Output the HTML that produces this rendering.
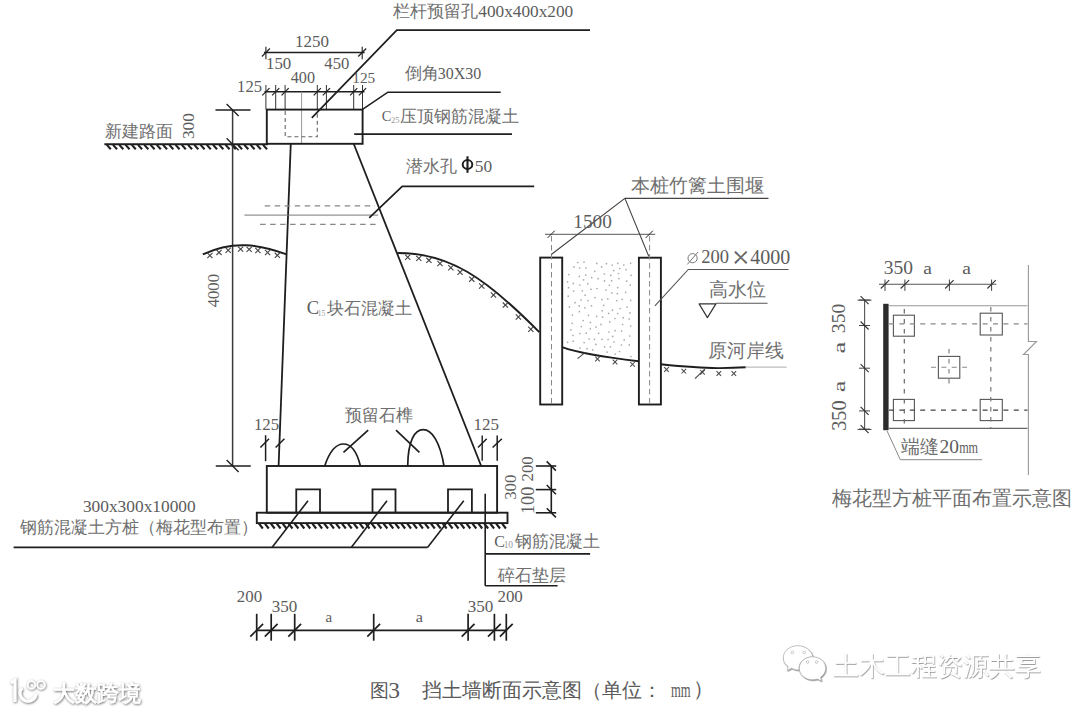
<!DOCTYPE html>
<html><head><meta charset="utf-8"><title>挡土墙断面示意图</title><style>
html,body{margin:0;padding:0;background:#fff;width:1080px;height:712px;overflow:hidden}
svg{display:block}
text{font-family:"Liberation Serif",serif}
</style></head><body>
<svg width="1080" height="712" viewBox="0 0 1080 712">
<rect width="1080" height="712" fill="#fff"/>
<line x1="263.9" y1="52.5" x2="364.6" y2="52.5" stroke="#1e1e1e" stroke-width="1.5"/>
<line x1="265.9" y1="46.7" x2="265.9" y2="59.2" stroke="#1e1e1e" stroke-width="1.1"/>
<line x1="362.2" y1="46.7" x2="362.2" y2="59.2" stroke="#1e1e1e" stroke-width="1.1"/>
<line x1="261.9" y1="56.5" x2="269.9" y2="48.5" stroke="#1e1e1e" stroke-width="1.2"/>
<line x1="358.2" y1="56.5" x2="366.2" y2="48.5" stroke="#1e1e1e" stroke-width="1.2"/>
<line x1="264.5" y1="91.8" x2="364.5" y2="91.8" stroke="#1e1e1e" stroke-width="1.6"/>
<line x1="265.9" y1="85" x2="265.9" y2="109.4" stroke="#333" stroke-width="1.0"/>
<line x1="262.3" y1="95.4" x2="269.5" y2="88.2" stroke="#1e1e1e" stroke-width="1.2"/>
<line x1="275.7" y1="85" x2="275.7" y2="109.4" stroke="#333" stroke-width="1.0"/>
<line x1="272.1" y1="95.4" x2="279.3" y2="88.2" stroke="#1e1e1e" stroke-width="1.2"/>
<line x1="285.1" y1="85" x2="285.1" y2="109.4" stroke="#333" stroke-width="1.0"/>
<line x1="281.5" y1="95.4" x2="288.7" y2="88.2" stroke="#1e1e1e" stroke-width="1.2"/>
<line x1="317.3" y1="85" x2="317.3" y2="109.4" stroke="#333" stroke-width="1.0"/>
<line x1="313.7" y1="95.4" x2="320.9" y2="88.2" stroke="#1e1e1e" stroke-width="1.2"/>
<line x1="326.4" y1="85" x2="326.4" y2="109.4" stroke="#333" stroke-width="1.0"/>
<line x1="322.8" y1="95.4" x2="330" y2="88.2" stroke="#1e1e1e" stroke-width="1.2"/>
<line x1="353.7" y1="85" x2="353.7" y2="109.4" stroke="#333" stroke-width="1.0"/>
<line x1="350.1" y1="95.4" x2="357.3" y2="88.2" stroke="#1e1e1e" stroke-width="1.2"/>
<line x1="362.5" y1="85" x2="362.5" y2="109.4" stroke="#333" stroke-width="1.0"/>
<line x1="358.9" y1="95.4" x2="366.1" y2="88.2" stroke="#1e1e1e" stroke-width="1.2"/>
<line x1="301.6" y1="91.8" x2="301.6" y2="143.7" stroke="#999" stroke-width="1.0"/>
<rect x="266.8" y="109.6" width="95.8" height="34.2" stroke="#1e1e1e" stroke-width="1.9" fill="none"/>
<path d="M285.2,111 V136.8 H317.3 V111" stroke="#666" stroke-width="1.1" fill="none" stroke-dasharray="4,3"/>
<path d="M311.8,117.8 L396.8,30.1 H590" stroke="#1e1e1e" stroke-width="1.7" fill="none"/>
<path d="M362.5,109.4 L387.9,92.2 H500.7" stroke="#1e1e1e" stroke-width="1.6" fill="none"/>
<line x1="354.2" y1="134.1" x2="512" y2="134.1" stroke="#1e1e1e" stroke-width="1.7"/>
<line x1="104.4" y1="144.2" x2="268" y2="144.2" stroke="#1e1e1e" stroke-width="1.9"/>
<line x1="106.8" y1="144.9" x2="110.8" y2="149.2" stroke="#1e1e1e" stroke-width="2.1"/>
<line x1="113.05" y1="144.9" x2="117.05" y2="149.2" stroke="#1e1e1e" stroke-width="2.1"/>
<line x1="119.3" y1="144.9" x2="123.3" y2="149.2" stroke="#1e1e1e" stroke-width="2.1"/>
<line x1="125.55" y1="144.9" x2="129.55" y2="149.2" stroke="#1e1e1e" stroke-width="2.1"/>
<line x1="131.8" y1="144.9" x2="135.8" y2="149.2" stroke="#1e1e1e" stroke-width="2.1"/>
<line x1="138.05" y1="144.9" x2="142.05" y2="149.2" stroke="#1e1e1e" stroke-width="2.1"/>
<line x1="144.3" y1="144.9" x2="148.3" y2="149.2" stroke="#1e1e1e" stroke-width="2.1"/>
<line x1="150.55" y1="144.9" x2="154.55" y2="149.2" stroke="#1e1e1e" stroke-width="2.1"/>
<line x1="156.8" y1="144.9" x2="160.8" y2="149.2" stroke="#1e1e1e" stroke-width="2.1"/>
<line x1="163.05" y1="144.9" x2="167.05" y2="149.2" stroke="#1e1e1e" stroke-width="2.1"/>
<line x1="169.3" y1="144.9" x2="173.3" y2="149.2" stroke="#1e1e1e" stroke-width="2.1"/>
<line x1="175.55" y1="144.9" x2="179.55" y2="149.2" stroke="#1e1e1e" stroke-width="2.1"/>
<line x1="181.8" y1="144.9" x2="185.8" y2="149.2" stroke="#1e1e1e" stroke-width="2.1"/>
<line x1="188.05" y1="144.9" x2="192.05" y2="149.2" stroke="#1e1e1e" stroke-width="2.1"/>
<line x1="194.3" y1="144.9" x2="198.3" y2="149.2" stroke="#1e1e1e" stroke-width="2.1"/>
<line x1="200.55" y1="144.9" x2="204.55" y2="149.2" stroke="#1e1e1e" stroke-width="2.1"/>
<line x1="206.8" y1="144.9" x2="210.8" y2="149.2" stroke="#1e1e1e" stroke-width="2.1"/>
<line x1="213.05" y1="144.9" x2="217.05" y2="149.2" stroke="#1e1e1e" stroke-width="2.1"/>
<line x1="219.3" y1="144.9" x2="223.3" y2="149.2" stroke="#1e1e1e" stroke-width="2.1"/>
<line x1="225.55" y1="144.9" x2="229.55" y2="149.2" stroke="#1e1e1e" stroke-width="2.1"/>
<line x1="231.8" y1="144.9" x2="235.8" y2="149.2" stroke="#1e1e1e" stroke-width="2.1"/>
<line x1="238.05" y1="144.9" x2="242.05" y2="149.2" stroke="#1e1e1e" stroke-width="2.1"/>
<line x1="244.3" y1="144.9" x2="248.3" y2="149.2" stroke="#1e1e1e" stroke-width="2.1"/>
<line x1="250.55" y1="144.9" x2="254.55" y2="149.2" stroke="#1e1e1e" stroke-width="2.1"/>
<line x1="256.8" y1="144.9" x2="260.8" y2="149.2" stroke="#1e1e1e" stroke-width="2.1"/>
<line x1="263.05" y1="144.9" x2="267.05" y2="149.2" stroke="#1e1e1e" stroke-width="2.1"/>
<line x1="232.6" y1="110" x2="232.6" y2="466" stroke="#3a3a3a" stroke-width="1.5"/>
<line x1="215.5" y1="110" x2="250.5" y2="110" stroke="#1e1e1e" stroke-width="1.6"/>
<line x1="215.75" y1="466" x2="250.75" y2="466" stroke="#1e1e1e" stroke-width="1.6"/>
<line x1="226.6" y1="104" x2="238.6" y2="116" stroke="#1e1e1e" stroke-width="1.4"/>
<line x1="226.6" y1="138.2" x2="238.6" y2="150.2" stroke="#1e1e1e" stroke-width="1.4"/>
<line x1="226.6" y1="460" x2="238.6" y2="472" stroke="#1e1e1e" stroke-width="1.4"/>
<line x1="290.75" y1="144" x2="278.6" y2="466" stroke="#1e1e1e" stroke-width="1.8"/>
<line x1="353.8" y1="144" x2="481.2" y2="466" stroke="#1e1e1e" stroke-width="1.8"/>
<line x1="264.7" y1="205.8" x2="375" y2="205.8" stroke="#888" stroke-width="1.2" stroke-dasharray="5.5,4.5"/>
<line x1="244.4" y1="215.1" x2="378.2" y2="215.1" stroke="#777" stroke-width="1.0"/>
<line x1="260.1" y1="224.4" x2="380" y2="224.4" stroke="#888" stroke-width="1.2" stroke-dasharray="5.5,4.5"/>
<path d="M369.2,217.9 L402.2,186.4 H534.2" stroke="#1e1e1e" stroke-width="1.7" fill="none"/>
<path d="M202.8,254.4 C233.52,240.0 259.02,244.47 286.7,254.4" stroke="#1e1e1e" stroke-width="1.9" fill="none"/>
<path d="M397.5,253 C449.06,252.73 485.49,277.57 539.3,332.2" stroke="#1e1e1e" stroke-width="1.9" fill="none"/>
<line x1="207.31" y1="252.95" x2="212.51" y2="258.15" stroke="#444" stroke-width="1.1"/>
<line x1="207.31" y1="258.15" x2="212.51" y2="252.95" stroke="#444" stroke-width="1.1"/>
<line x1="216.44" y1="249.8" x2="221.64" y2="255" stroke="#444" stroke-width="1.1"/>
<line x1="216.44" y1="255" x2="221.64" y2="249.8" stroke="#444" stroke-width="1.1"/>
<line x1="225.6" y1="247.69" x2="230.8" y2="252.89" stroke="#444" stroke-width="1.1"/>
<line x1="225.6" y1="252.89" x2="230.8" y2="247.69" stroke="#444" stroke-width="1.1"/>
<line x1="238.01" y1="246.52" x2="243.21" y2="251.72" stroke="#444" stroke-width="1.1"/>
<line x1="238.01" y1="251.72" x2="243.21" y2="246.52" stroke="#444" stroke-width="1.1"/>
<line x1="246.58" y1="246.78" x2="251.78" y2="251.98" stroke="#444" stroke-width="1.1"/>
<line x1="246.58" y1="251.98" x2="251.78" y2="246.78" stroke="#444" stroke-width="1.1"/>
<line x1="255.28" y1="247.87" x2="260.48" y2="253.07" stroke="#444" stroke-width="1.1"/>
<line x1="255.28" y1="253.07" x2="260.48" y2="247.87" stroke="#444" stroke-width="1.1"/>
<line x1="264.95" y1="249.92" x2="270.15" y2="255.12" stroke="#444" stroke-width="1.1"/>
<line x1="264.95" y1="255.12" x2="270.15" y2="249.92" stroke="#444" stroke-width="1.1"/>
<line x1="274.75" y1="252.74" x2="279.95" y2="257.94" stroke="#444" stroke-width="1.1"/>
<line x1="274.75" y1="257.94" x2="279.95" y2="252.74" stroke="#444" stroke-width="1.1"/>
<line x1="405.12" y1="254.6" x2="410.32" y2="259.8" stroke="#444" stroke-width="1.1"/>
<line x1="405.12" y1="259.8" x2="410.32" y2="254.6" stroke="#444" stroke-width="1.1"/>
<line x1="416.18" y1="255.78" x2="421.38" y2="260.98" stroke="#444" stroke-width="1.1"/>
<line x1="416.18" y1="260.98" x2="421.38" y2="255.78" stroke="#444" stroke-width="1.1"/>
<line x1="426.32" y1="257.74" x2="431.52" y2="262.94" stroke="#444" stroke-width="1.1"/>
<line x1="426.32" y1="262.94" x2="431.52" y2="257.74" stroke="#444" stroke-width="1.1"/>
<line x1="437.39" y1="260.94" x2="442.59" y2="266.14" stroke="#444" stroke-width="1.1"/>
<line x1="437.39" y1="266.14" x2="442.59" y2="260.94" stroke="#444" stroke-width="1.1"/>
<line x1="448.26" y1="265.2" x2="453.46" y2="270.4" stroke="#444" stroke-width="1.1"/>
<line x1="448.26" y1="270.4" x2="453.46" y2="265.2" stroke="#444" stroke-width="1.1"/>
<line x1="457.51" y1="269.72" x2="462.71" y2="274.92" stroke="#444" stroke-width="1.1"/>
<line x1="457.51" y1="274.92" x2="462.71" y2="269.72" stroke="#444" stroke-width="1.1"/>
<line x1="469.15" y1="276.55" x2="474.35" y2="281.75" stroke="#444" stroke-width="1.1"/>
<line x1="469.15" y1="281.75" x2="474.35" y2="276.55" stroke="#444" stroke-width="1.1"/>
<line x1="479.09" y1="283.33" x2="484.29" y2="288.53" stroke="#444" stroke-width="1.1"/>
<line x1="479.09" y1="288.53" x2="484.29" y2="283.33" stroke="#444" stroke-width="1.1"/>
<line x1="490.88" y1="292.39" x2="496.08" y2="297.59" stroke="#444" stroke-width="1.1"/>
<line x1="490.88" y1="297.59" x2="496.08" y2="292.39" stroke="#444" stroke-width="1.1"/>
<line x1="502.79" y1="302.51" x2="507.99" y2="307.71" stroke="#444" stroke-width="1.1"/>
<line x1="502.79" y1="307.71" x2="507.99" y2="302.51" stroke="#444" stroke-width="1.1"/>
<line x1="515.79" y1="314.47" x2="520.99" y2="319.67" stroke="#444" stroke-width="1.1"/>
<line x1="515.79" y1="319.67" x2="520.99" y2="314.47" stroke="#444" stroke-width="1.1"/>
<line x1="528.2" y1="326.58" x2="533.4" y2="331.78" stroke="#444" stroke-width="1.1"/>
<line x1="528.2" y1="331.78" x2="533.4" y2="326.58" stroke="#444" stroke-width="1.1"/>
<rect x="540.2" y="257.6" width="22" height="146.9" stroke="#1e1e1e" stroke-width="1.9" fill="none"/>
<rect x="638.9" y="257.7" width="22" height="146.8" stroke="#1e1e1e" stroke-width="1.9" fill="none"/>
<line x1="551.5" y1="236" x2="551.5" y2="404.5" stroke="#888" stroke-width="1.0" stroke-dasharray="5.5,3.5"/>
<line x1="649.6" y1="236" x2="649.6" y2="404.5" stroke="#888" stroke-width="1.0" stroke-dasharray="5.5,3.5"/>
<line x1="545" y1="234.3" x2="655.2" y2="234.3" stroke="#555" stroke-width="1.0"/>
<line x1="547.6" y1="237.9" x2="554.8" y2="230.7" stroke="#1e1e1e" stroke-width="1.0"/>
<line x1="645.7" y1="237.9" x2="652.9" y2="230.7" stroke="#1e1e1e" stroke-width="1.0"/>
<path d="M551.25,254.5 L624.9,198.3 L648.75,256.25" stroke="#444" stroke-width="1.1" fill="none"/>
<line x1="624.9" y1="198.3" x2="768.5" y2="198.3" stroke="#444" stroke-width="1.2"/>
<circle cx="596.7" cy="316.4" r="0.85" fill="#aaa"/>
<circle cx="627.1" cy="307.1" r="0.85" fill="#aaa"/>
<circle cx="579.4" cy="311.7" r="0.85" fill="#aaa"/>
<circle cx="608.1" cy="339.5" r="0.85" fill="#aaa"/>
<circle cx="573.6" cy="291.0" r="0.85" fill="#aaa"/>
<circle cx="573.3" cy="341.2" r="0.85" fill="#aaa"/>
<circle cx="612.2" cy="265.1" r="0.85" fill="#aaa"/>
<circle cx="630.9" cy="356.5" r="0.85" fill="#aaa"/>
<circle cx="609.7" cy="321.9" r="0.85" fill="#aaa"/>
<circle cx="577.7" cy="262.5" r="0.85" fill="#aaa"/>
<circle cx="601.6" cy="266.9" r="0.85" fill="#aaa"/>
<circle cx="579.8" cy="285.0" r="0.85" fill="#aaa"/>
<circle cx="569.4" cy="306.9" r="0.85" fill="#aaa"/>
<circle cx="595.9" cy="344.4" r="0.85" fill="#aaa"/>
<circle cx="601.0" cy="324.4" r="0.85" fill="#aaa"/>
<circle cx="597.0" cy="288.5" r="0.85" fill="#aaa"/>
<circle cx="621.7" cy="331.1" r="0.85" fill="#aaa"/>
<circle cx="587.8" cy="283.7" r="0.85" fill="#aaa"/>
<circle cx="586.1" cy="268.0" r="0.85" fill="#aaa"/>
<circle cx="616.9" cy="300.6" r="0.85" fill="#aaa"/>
<circle cx="622.1" cy="299.3" r="0.85" fill="#aaa"/>
<circle cx="629.3" cy="344.9" r="0.85" fill="#aaa"/>
<circle cx="567.5" cy="281.8" r="0.85" fill="#aaa"/>
<circle cx="630.7" cy="300.3" r="0.85" fill="#aaa"/>
<circle cx="572.2" cy="323.3" r="0.85" fill="#aaa"/>
<circle cx="617.7" cy="287.7" r="0.85" fill="#aaa"/>
<circle cx="629.7" cy="336.0" r="0.85" fill="#aaa"/>
<circle cx="574.0" cy="266.9" r="0.85" fill="#aaa"/>
<circle cx="618.9" cy="278.6" r="0.85" fill="#aaa"/>
<circle cx="603.6" cy="305.3" r="0.85" fill="#aaa"/>
<circle cx="579.8" cy="333.5" r="0.85" fill="#aaa"/>
<circle cx="575.0" cy="302.7" r="0.85" fill="#aaa"/>
<circle cx="587.1" cy="348.6" r="0.85" fill="#aaa"/>
<circle cx="581.1" cy="300.0" r="0.85" fill="#aaa"/>
<circle cx="622.6" cy="324.5" r="0.85" fill="#aaa"/>
<circle cx="617.3" cy="293.6" r="0.85" fill="#aaa"/>
<circle cx="583.2" cy="320.5" r="0.85" fill="#aaa"/>
<circle cx="591.5" cy="305.9" r="0.85" fill="#aaa"/>
<circle cx="604.6" cy="346.8" r="0.85" fill="#aaa"/>
<circle cx="579.3" cy="276.3" r="0.85" fill="#aaa"/>
<circle cx="583.6" cy="279.8" r="0.85" fill="#aaa"/>
<circle cx="615.2" cy="354.1" r="0.85" fill="#aaa"/>
<circle cx="594.7" cy="271.3" r="0.85" fill="#aaa"/>
<circle cx="584.1" cy="342.5" r="0.85" fill="#aaa"/>
<circle cx="606.0" cy="290.1" r="0.85" fill="#aaa"/>
<circle cx="626.7" cy="281.2" r="0.85" fill="#aaa"/>
<circle cx="568.6" cy="287.7" r="0.85" fill="#aaa"/>
<circle cx="604.4" cy="274.0" r="0.85" fill="#aaa"/>
<circle cx="630.7" cy="326.0" r="0.85" fill="#aaa"/>
<circle cx="598.6" cy="333.3" r="0.85" fill="#aaa"/>
<circle cx="572.4" cy="315.1" r="0.85" fill="#aaa"/>
<circle cx="615.0" cy="330.7" r="0.85" fill="#aaa"/>
<circle cx="590.2" cy="328.8" r="0.85" fill="#aaa"/>
<circle cx="594.4" cy="339.3" r="0.85" fill="#aaa"/>
<circle cx="623.2" cy="317.7" r="0.85" fill="#aaa"/>
<circle cx="607.8" cy="298.9" r="0.85" fill="#aaa"/>
<circle cx="614.9" cy="318.5" r="0.85" fill="#aaa"/>
<circle cx="572.9" cy="335.3" r="0.85" fill="#aaa"/>
<circle cx="612.5" cy="310.2" r="0.85" fill="#aaa"/>
<circle cx="607.1" cy="352.1" r="0.85" fill="#aaa"/>
<circle cx="584.0" cy="262.1" r="0.85" fill="#aaa"/>
<circle cx="619.5" cy="351.5" r="0.85" fill="#aaa"/>
<circle cx="621.5" cy="345.0" r="0.85" fill="#aaa"/>
<circle cx="623.8" cy="265.1" r="0.85" fill="#aaa"/>
<circle cx="568.7" cy="274.5" r="0.85" fill="#aaa"/>
<circle cx="596.8" cy="263.4" r="0.85" fill="#aaa"/>
<circle cx="611.6" cy="280.7" r="0.85" fill="#aaa"/>
<circle cx="598.1" cy="278.7" r="0.85" fill="#aaa"/>
<circle cx="585.1" cy="295.2" r="0.85" fill="#aaa"/>
<circle cx="626.0" cy="269.6" r="0.85" fill="#aaa"/>
<circle cx="624.2" cy="339.9" r="0.85" fill="#aaa"/>
<circle cx="614.1" cy="342.0" r="0.85" fill="#aaa"/>
<circle cx="608.9" cy="332.0" r="0.85" fill="#aaa"/>
<circle cx="602.1" cy="339.3" r="0.85" fill="#aaa"/>
<circle cx="589.1" cy="339.0" r="0.85" fill="#aaa"/>
<circle cx="586.2" cy="333.2" r="0.85" fill="#aaa"/>
<circle cx="630.0" cy="312.9" r="0.85" fill="#aaa"/>
<circle cx="604.5" cy="280.9" r="0.85" fill="#aaa"/>
<circle cx="602.1" cy="310.8" r="0.85" fill="#aaa"/>
<circle cx="606.5" cy="263.7" r="0.85" fill="#aaa"/>
<circle cx="584.9" cy="307.8" r="0.85" fill="#aaa"/>
<circle cx="617.8" cy="263.3" r="0.85" fill="#aaa"/>
<circle cx="611.8" cy="292.9" r="0.85" fill="#aaa"/>
<circle cx="590.4" cy="322.4" r="0.85" fill="#aaa"/>
<circle cx="608.7" cy="313.4" r="0.85" fill="#aaa"/>
<circle cx="625.7" cy="292.3" r="0.85" fill="#aaa"/>
<circle cx="618.5" cy="273.5" r="0.85" fill="#aaa"/>
<circle cx="579.7" cy="268.0" r="0.85" fill="#aaa"/>
<circle cx="579.2" cy="305.9" r="0.85" fill="#aaa"/>
<circle cx="568.2" cy="296.2" r="0.85" fill="#aaa"/>
<circle cx="601.9" cy="299.6" r="0.85" fill="#aaa"/>
<circle cx="612.7" cy="336.4" r="0.85" fill="#aaa"/>
<circle cx="630.7" cy="263.3" r="0.85" fill="#aaa"/>
<circle cx="619.7" cy="268.5" r="0.85" fill="#aaa"/>
<circle cx="591.1" cy="289.3" r="0.85" fill="#aaa"/>
<circle cx="592.7" cy="349.9" r="0.85" fill="#aaa"/>
<circle cx="630.3" cy="285.1" r="0.85" fill="#aaa"/>
<circle cx="596.1" cy="327.1" r="0.85" fill="#aaa"/>
<circle cx="617.7" cy="313.5" r="0.85" fill="#aaa"/>
<circle cx="588.5" cy="315.3" r="0.85" fill="#aaa"/>
<circle cx="595.1" cy="297.6" r="0.85" fill="#aaa"/>
<circle cx="581.3" cy="326.5" r="0.85" fill="#aaa"/>
<circle cx="585.7" cy="275.1" r="0.85" fill="#aaa"/>
<circle cx="588.0" cy="300.6" r="0.85" fill="#aaa"/>
<circle cx="602.6" cy="317.2" r="0.85" fill="#aaa"/>
<circle cx="609.4" cy="285.3" r="0.85" fill="#aaa"/>
<circle cx="591.7" cy="277.6" r="0.85" fill="#aaa"/>
<circle cx="620.2" cy="308.5" r="0.85" fill="#aaa"/>
<circle cx="567.6" cy="342.3" r="0.85" fill="#aaa"/>
<circle cx="613.7" cy="270.6" r="0.85" fill="#aaa"/>
<circle cx="629.1" cy="319.1" r="0.85" fill="#aaa"/>
<circle cx="573.3" cy="283.4" r="0.85" fill="#aaa"/>
<circle cx="610.8" cy="275.3" r="0.85" fill="#aaa"/>
<circle cx="570.9" cy="329.8" r="0.85" fill="#aaa"/>
<circle cx="610.4" cy="346.8" r="0.85" fill="#aaa"/>
<circle cx="579.9" cy="348.1" r="0.85" fill="#aaa"/>
<circle cx="582.3" cy="290.8" r="0.85" fill="#aaa"/>
<circle cx="631.1" cy="275.3" r="0.85" fill="#aaa"/>
<path d="M654.9,305.9 L688.3,269.5 H788.6" stroke="#555" stroke-width="1.1" fill="none"/>
<line x1="715.9" y1="303.3" x2="767.6" y2="303.3" stroke="#555" stroke-width="1.1"/>
<path d="M699.1,303.9 H715.9 L707.4,317.6 Z" stroke="#333" stroke-width="1.2" fill="none" stroke-linejoin="round"/>
<path d="M562.1,347.2 C581.91,354.28 621.2,359.29 638.5,361.3" stroke="#1e1e1e" stroke-width="1.9" fill="none"/>
<path d="M660.8,364.3 C685,366.8 705,368.3 720,368.1 C730,368 740,367.6 745.7,367.3" stroke="#1e1e1e" stroke-width="1.9" fill="none"/>
<line x1="745.7" y1="367.1" x2="786.6" y2="367.1" stroke="#aaa" stroke-width="1.0"/>
<line x1="595.2" y1="356.7" x2="599.8" y2="361.3" stroke="#4a4a4a" stroke-width="1.05"/>
<line x1="595.2" y1="361.3" x2="599.8" y2="356.7" stroke="#4a4a4a" stroke-width="1.05"/>
<line x1="612.7" y1="359.7" x2="617.3" y2="364.3" stroke="#4a4a4a" stroke-width="1.05"/>
<line x1="612.7" y1="364.3" x2="617.3" y2="359.7" stroke="#4a4a4a" stroke-width="1.05"/>
<line x1="630.2" y1="362" x2="634.8" y2="366.6" stroke="#4a4a4a" stroke-width="1.05"/>
<line x1="630.2" y1="366.6" x2="634.8" y2="362" stroke="#4a4a4a" stroke-width="1.05"/>
<line x1="577.5" y1="358.6" x2="585" y2="352.6" stroke="#444" stroke-width="1.1"/>
<line x1="664.2" y1="367.2" x2="668.8" y2="371.8" stroke="#4a4a4a" stroke-width="1.05"/>
<line x1="664.2" y1="371.8" x2="668.8" y2="367.2" stroke="#4a4a4a" stroke-width="1.05"/>
<line x1="681.5" y1="368.9" x2="686.1" y2="373.5" stroke="#4a4a4a" stroke-width="1.05"/>
<line x1="681.5" y1="373.5" x2="686.1" y2="368.9" stroke="#4a4a4a" stroke-width="1.05"/>
<line x1="700.2" y1="370" x2="704.8" y2="374.6" stroke="#4a4a4a" stroke-width="1.05"/>
<line x1="700.2" y1="374.6" x2="704.8" y2="370" stroke="#4a4a4a" stroke-width="1.05"/>
<line x1="716.5" y1="371.2" x2="721.1" y2="375.8" stroke="#4a4a4a" stroke-width="1.05"/>
<line x1="716.5" y1="375.8" x2="721.1" y2="371.2" stroke="#4a4a4a" stroke-width="1.05"/>
<line x1="731.5" y1="371.2" x2="736.1" y2="375.8" stroke="#4a4a4a" stroke-width="1.05"/>
<line x1="731.5" y1="375.8" x2="736.1" y2="371.2" stroke="#4a4a4a" stroke-width="1.05"/>
<line x1="695" y1="378.7" x2="705" y2="368.8" stroke="#444" stroke-width="1.1"/>
<rect x="266.8" y="466" width="230.3" height="46.7" stroke="#1e1e1e" stroke-width="1.9" fill="none"/>
<rect x="256.8" y="512.7" width="250.7" height="10.4" stroke="#1e1e1e" stroke-width="1.9" fill="none"/>
<line x1="259" y1="523.6" x2="262.8" y2="528.5" stroke="#1e1e1e" stroke-width="2.1"/>
<line x1="264.93" y1="523.6" x2="268.73" y2="528.5" stroke="#1e1e1e" stroke-width="2.1"/>
<line x1="270.86" y1="523.6" x2="274.66" y2="528.5" stroke="#1e1e1e" stroke-width="2.1"/>
<line x1="276.79" y1="523.6" x2="280.59" y2="528.5" stroke="#1e1e1e" stroke-width="2.1"/>
<line x1="282.72" y1="523.6" x2="286.52" y2="528.5" stroke="#1e1e1e" stroke-width="2.1"/>
<line x1="288.65" y1="523.6" x2="292.45" y2="528.5" stroke="#1e1e1e" stroke-width="2.1"/>
<line x1="294.58" y1="523.6" x2="298.38" y2="528.5" stroke="#1e1e1e" stroke-width="2.1"/>
<line x1="300.51" y1="523.6" x2="304.31" y2="528.5" stroke="#1e1e1e" stroke-width="2.1"/>
<line x1="306.44" y1="523.6" x2="310.24" y2="528.5" stroke="#1e1e1e" stroke-width="2.1"/>
<line x1="312.37" y1="523.6" x2="316.17" y2="528.5" stroke="#1e1e1e" stroke-width="2.1"/>
<line x1="318.3" y1="523.6" x2="322.1" y2="528.5" stroke="#1e1e1e" stroke-width="2.1"/>
<line x1="324.23" y1="523.6" x2="328.03" y2="528.5" stroke="#1e1e1e" stroke-width="2.1"/>
<line x1="330.16" y1="523.6" x2="333.96" y2="528.5" stroke="#1e1e1e" stroke-width="2.1"/>
<line x1="336.09" y1="523.6" x2="339.89" y2="528.5" stroke="#1e1e1e" stroke-width="2.1"/>
<line x1="342.02" y1="523.6" x2="345.82" y2="528.5" stroke="#1e1e1e" stroke-width="2.1"/>
<line x1="347.95" y1="523.6" x2="351.75" y2="528.5" stroke="#1e1e1e" stroke-width="2.1"/>
<line x1="353.88" y1="523.6" x2="357.68" y2="528.5" stroke="#1e1e1e" stroke-width="2.1"/>
<line x1="359.81" y1="523.6" x2="363.61" y2="528.5" stroke="#1e1e1e" stroke-width="2.1"/>
<line x1="365.74" y1="523.6" x2="369.54" y2="528.5" stroke="#1e1e1e" stroke-width="2.1"/>
<line x1="371.67" y1="523.6" x2="375.47" y2="528.5" stroke="#1e1e1e" stroke-width="2.1"/>
<line x1="377.6" y1="523.6" x2="381.4" y2="528.5" stroke="#1e1e1e" stroke-width="2.1"/>
<line x1="383.53" y1="523.6" x2="387.33" y2="528.5" stroke="#1e1e1e" stroke-width="2.1"/>
<line x1="389.46" y1="523.6" x2="393.26" y2="528.5" stroke="#1e1e1e" stroke-width="2.1"/>
<line x1="395.39" y1="523.6" x2="399.19" y2="528.5" stroke="#1e1e1e" stroke-width="2.1"/>
<line x1="401.32" y1="523.6" x2="405.12" y2="528.5" stroke="#1e1e1e" stroke-width="2.1"/>
<line x1="407.25" y1="523.6" x2="411.05" y2="528.5" stroke="#1e1e1e" stroke-width="2.1"/>
<line x1="413.18" y1="523.6" x2="416.98" y2="528.5" stroke="#1e1e1e" stroke-width="2.1"/>
<line x1="419.11" y1="523.6" x2="422.91" y2="528.5" stroke="#1e1e1e" stroke-width="2.1"/>
<line x1="425.04" y1="523.6" x2="428.84" y2="528.5" stroke="#1e1e1e" stroke-width="2.1"/>
<line x1="430.97" y1="523.6" x2="434.77" y2="528.5" stroke="#1e1e1e" stroke-width="2.1"/>
<line x1="436.9" y1="523.6" x2="440.7" y2="528.5" stroke="#1e1e1e" stroke-width="2.1"/>
<line x1="442.83" y1="523.6" x2="446.63" y2="528.5" stroke="#1e1e1e" stroke-width="2.1"/>
<line x1="448.76" y1="523.6" x2="452.56" y2="528.5" stroke="#1e1e1e" stroke-width="2.1"/>
<line x1="454.69" y1="523.6" x2="458.49" y2="528.5" stroke="#1e1e1e" stroke-width="2.1"/>
<line x1="460.62" y1="523.6" x2="464.42" y2="528.5" stroke="#1e1e1e" stroke-width="2.1"/>
<line x1="466.55" y1="523.6" x2="470.35" y2="528.5" stroke="#1e1e1e" stroke-width="2.1"/>
<line x1="472.48" y1="523.6" x2="476.28" y2="528.5" stroke="#1e1e1e" stroke-width="2.1"/>
<line x1="478.41" y1="523.6" x2="482.21" y2="528.5" stroke="#1e1e1e" stroke-width="2.1"/>
<line x1="484.34" y1="523.6" x2="488.14" y2="528.5" stroke="#1e1e1e" stroke-width="2.1"/>
<line x1="490.27" y1="523.6" x2="494.07" y2="528.5" stroke="#1e1e1e" stroke-width="2.1"/>
<line x1="496.2" y1="523.6" x2="500" y2="528.5" stroke="#1e1e1e" stroke-width="2.1"/>
<line x1="502.13" y1="523.6" x2="505.93" y2="528.5" stroke="#1e1e1e" stroke-width="2.1"/>
<path d="M296.25,512.7 V489.4 H320 V512.7" stroke="#1e1e1e" stroke-width="1.8" fill="none"/>
<path d="M372.5,512.7 V489.4 H395.5 V512.7" stroke="#1e1e1e" stroke-width="1.8" fill="none"/>
<path d="M448,512.7 V489.4 H471.9 V512.7" stroke="#1e1e1e" stroke-width="1.8" fill="none"/>
<line x1="308" y1="500.75" x2="272" y2="547.4" stroke="#1e1e1e" stroke-width="1.6"/>
<line x1="387" y1="500.75" x2="351.25" y2="547.4" stroke="#1e1e1e" stroke-width="1.6"/>
<line x1="463.75" y1="500.75" x2="427.5" y2="547.4" stroke="#1e1e1e" stroke-width="1.6"/>
<line x1="13.6" y1="547.4" x2="427.5" y2="547.4" stroke="#1e1e1e" stroke-width="1.6"/>
<path d="M324.7,466 C330,450 336,444 343.5,444 C351,444 357,452 360.4,466" stroke="#1e1e1e" stroke-width="1.7" fill="none"/>
<path d="M407.7,466 C408,440 415,429.7 423.2,429.7 C432,429.7 440,442 444,466" stroke="#1e1e1e" stroke-width="1.7" fill="none"/>
<line x1="343.5" y1="452.4" x2="368.2" y2="430.1" stroke="#1e1e1e" stroke-width="1.7"/>
<line x1="396" y1="430.1" x2="419.4" y2="452.4" stroke="#1e1e1e" stroke-width="1.7"/>
<line x1="265.6" y1="435.2" x2="265.6" y2="461.2" stroke="#1e1e1e" stroke-width="1.5"/>
<line x1="260.4" y1="447.5" x2="269" y2="438.7" stroke="#1e1e1e" stroke-width="1.5"/>
<line x1="275.6" y1="447.5" x2="284.4" y2="438.7" stroke="#1e1e1e" stroke-width="1.5"/>
<line x1="482.2" y1="435.5" x2="482.2" y2="460.8" stroke="#1e1e1e" stroke-width="1.4"/>
<line x1="478" y1="447.5" x2="486.7" y2="438.8" stroke="#1e1e1e" stroke-width="1.5"/>
<line x1="497.2" y1="435.5" x2="497.2" y2="460.8" stroke="#1e1e1e" stroke-width="1.5"/>
<line x1="492.6" y1="447.5" x2="501.9" y2="438.8" stroke="#1e1e1e" stroke-width="1.5"/>
<line x1="551.3" y1="466" x2="551.3" y2="512.8" stroke="#1e1e1e" stroke-width="1.6"/>
<line x1="535.8" y1="466" x2="556.2" y2="466" stroke="#1e1e1e" stroke-width="1.6"/>
<line x1="546.7" y1="461.4" x2="555.9" y2="470.6" stroke="#1e1e1e" stroke-width="1.5"/>
<line x1="535.8" y1="489.6" x2="556.2" y2="489.6" stroke="#1e1e1e" stroke-width="1.6"/>
<line x1="546.7" y1="485" x2="555.9" y2="494.2" stroke="#1e1e1e" stroke-width="1.5"/>
<line x1="535.8" y1="512.8" x2="556.2" y2="512.8" stroke="#1e1e1e" stroke-width="1.6"/>
<line x1="546.7" y1="508.2" x2="555.9" y2="517.4" stroke="#1e1e1e" stroke-width="1.5"/>
<line x1="485.2" y1="493.8" x2="485.2" y2="585.8" stroke="#1e1e1e" stroke-width="1.6"/>
<line x1="485.2" y1="553.9" x2="590.1" y2="553.9" stroke="#1e1e1e" stroke-width="1.6"/>
<line x1="485.2" y1="585.8" x2="557.6" y2="585.8" stroke="#1e1e1e" stroke-width="1.6"/>
<line x1="256.7" y1="630.4" x2="506.3" y2="630.4" stroke="#1e1e1e" stroke-width="1.7"/>
<line x1="256.7" y1="613.8" x2="256.7" y2="640.7" stroke="#1e1e1e" stroke-width="1.7"/>
<line x1="250.3" y1="636.6" x2="263.1" y2="623.8" stroke="#1e1e1e" stroke-width="1.7"/>
<line x1="271.2" y1="613.8" x2="271.2" y2="640.7" stroke="#1e1e1e" stroke-width="1.7"/>
<line x1="264.8" y1="636.6" x2="277.6" y2="623.8" stroke="#1e1e1e" stroke-width="1.7"/>
<line x1="294.7" y1="613.8" x2="294.7" y2="640.7" stroke="#1e1e1e" stroke-width="1.7"/>
<line x1="288.3" y1="636.6" x2="301.1" y2="623.8" stroke="#1e1e1e" stroke-width="1.7"/>
<line x1="373.7" y1="613.8" x2="373.7" y2="640.7" stroke="#1e1e1e" stroke-width="1.7"/>
<line x1="367.3" y1="636.6" x2="380.1" y2="623.8" stroke="#1e1e1e" stroke-width="1.7"/>
<line x1="468.1" y1="613.8" x2="468.1" y2="640.7" stroke="#1e1e1e" stroke-width="1.7"/>
<line x1="461.7" y1="636.6" x2="474.5" y2="623.8" stroke="#1e1e1e" stroke-width="1.7"/>
<line x1="494.4" y1="613.8" x2="494.4" y2="640.7" stroke="#1e1e1e" stroke-width="1.7"/>
<line x1="488" y1="636.6" x2="500.8" y2="623.8" stroke="#1e1e1e" stroke-width="1.7"/>
<line x1="506.3" y1="613.8" x2="506.3" y2="640.7" stroke="#1e1e1e" stroke-width="1.7"/>
<line x1="499.9" y1="636.6" x2="512.7" y2="623.8" stroke="#1e1e1e" stroke-width="1.7"/>
<rect x="883.2" y="303.8" width="5.4" height="126.4" stroke="#1e1e1e" stroke-width="0" fill="#2b2b2b"/>
<line x1="888.6" y1="305.8" x2="1027.5" y2="305.8" stroke="#999" stroke-width="1.1"/>
<line x1="888.6" y1="428.4" x2="1027.5" y2="428.4" stroke="#666" stroke-width="1.2"/>
<path d="M1028.4,265 V341.5 H1036.5 L1023.5,354.5 H1028.4 V475" stroke="#999" stroke-width="1.1" fill="none"/>
<line x1="879" y1="284.3" x2="996.4" y2="284.3" stroke="#555" stroke-width="1.1"/>
<line x1="885" y1="279.5" x2="885" y2="290.9" stroke="#444" stroke-width="1.0"/>
<line x1="880.8" y1="288.5" x2="889.2" y2="280.1" stroke="#333" stroke-width="1.1"/>
<line x1="904.9" y1="279.5" x2="904.9" y2="290.9" stroke="#444" stroke-width="1.0"/>
<line x1="900.7" y1="288.5" x2="909.1" y2="280.1" stroke="#333" stroke-width="1.1"/>
<line x1="949.4" y1="279.5" x2="949.4" y2="290.9" stroke="#444" stroke-width="1.0"/>
<line x1="945.2" y1="288.5" x2="953.6" y2="280.1" stroke="#333" stroke-width="1.1"/>
<line x1="991.6" y1="279.5" x2="991.6" y2="290.9" stroke="#444" stroke-width="1.0"/>
<line x1="987.4" y1="288.5" x2="995.8" y2="280.1" stroke="#333" stroke-width="1.1"/>
<line x1="864.6" y1="300.1" x2="864.6" y2="430" stroke="#555" stroke-width="1.1"/>
<line x1="857.5" y1="300.1" x2="871.5" y2="300.1" stroke="#555" stroke-width="1.1"/>
<line x1="857.5" y1="429.5" x2="871.5" y2="429.5" stroke="#555" stroke-width="1.1"/>
<line x1="859" y1="300.1" x2="870" y2="300.1" stroke="#444" stroke-width="1.0"/>
<line x1="860.6" y1="296.1" x2="868.6" y2="304.1" stroke="#333" stroke-width="1.1"/>
<line x1="859" y1="325.5" x2="870" y2="325.5" stroke="#444" stroke-width="1.0"/>
<line x1="860.6" y1="321.5" x2="868.6" y2="329.5" stroke="#333" stroke-width="1.1"/>
<line x1="859" y1="368.2" x2="870" y2="368.2" stroke="#444" stroke-width="1.0"/>
<line x1="860.6" y1="364.2" x2="868.6" y2="372.2" stroke="#333" stroke-width="1.1"/>
<line x1="859" y1="410.9" x2="870" y2="410.9" stroke="#444" stroke-width="1.0"/>
<line x1="860.6" y1="406.9" x2="868.6" y2="414.9" stroke="#333" stroke-width="1.1"/>
<line x1="859" y1="429.1" x2="870" y2="429.1" stroke="#444" stroke-width="1.0"/>
<line x1="860.6" y1="425.1" x2="868.6" y2="433.1" stroke="#333" stroke-width="1.1"/>
<rect x="893.4" y="315.2" width="21" height="21" stroke="#555" stroke-width="1.1" fill="none"/>
<rect x="980.2" y="313.2" width="22.1" height="21.8" stroke="#555" stroke-width="1.1" fill="none"/>
<rect x="938.4" y="356.4" width="21.4" height="21.8" stroke="#555" stroke-width="1.1" fill="none"/>
<rect x="893.4" y="399.4" width="21" height="21.2" stroke="#555" stroke-width="1.1" fill="none"/>
<rect x="980.2" y="399.4" width="22.1" height="21.2" stroke="#555" stroke-width="1.1" fill="none"/>
<line x1="889" y1="323.8" x2="1027.5" y2="323.8" stroke="#888" stroke-width="1.2" stroke-dasharray="5,5.4"/>
<line x1="889" y1="410.2" x2="1027.5" y2="410.2" stroke="#444" stroke-width="1.2" stroke-dasharray="5,5.4"/>
<line x1="904.3" y1="309" x2="904.3" y2="428" stroke="#666" stroke-width="1.2" stroke-dasharray="4.6,5.4"/>
<line x1="990.8" y1="307" x2="990.8" y2="428" stroke="#777" stroke-width="1.2" stroke-dasharray="4.6,5.4"/>
<line x1="931" y1="367.2" x2="967" y2="367.2" stroke="#888" stroke-width="1.1" stroke-dasharray="5,5.4"/>
<line x1="949" y1="349" x2="949" y2="385" stroke="#777" stroke-width="1.1" stroke-dasharray="4.6,5.4"/>
<path d="M887,430.8 L900.3,459.7 H982.1" stroke="#888" stroke-width="1.0" fill="none"/>
<text x="392.50" y="17.07" font-size="16.93" fill="#6e6e6e">栏杆预留孔</text>
<text x="478.25" y="16.89" font-size="17.26" fill="#5c5c5c">400x400x200</text>
<text x="295.07" y="47.02" font-size="16.95" fill="#5c5c5c">1250</text>
<text x="265.98" y="69.25" font-size="16.86" fill="#5c5c5c">150</text>
<text x="324.37" y="69.08" font-size="16.60" fill="#5c5c5c">450</text>
<text x="290.78" y="83.25" font-size="16.18" fill="#5c5c5c">400</text>
<text x="352.22" y="83.13" font-size="15.33" fill="#5c5c5c">125</text>
<text x="237.10" y="92.01" font-size="16.64" fill="#5c5c5c">125</text>
<text x="405.20" y="79.40" font-size="17.27" fill="#6e6e6e">倒角</text>
<text x="437.80" y="79.03" font-size="15.97" fill="#5c5c5c">30X30</text>
<text x="381.69" y="121.11" font-size="14.33" fill="#5c5c5c">C</text>
<text x="391.06" y="122.65" font-size="8.59" fill="#999">25</text>
<text x="400.29" y="122.07" font-size="17.11" fill="#6e6e6e">压顶钢筋混凝土</text>
<text x="105.16" y="137.29" font-size="16.90" fill="#6e6e6e">新建路面</text>
<text x="194.41" y="138.96" font-size="17.16" fill="#5c5c5c" transform="rotate(-90 194.41 138.96)">300</text>
<text x="406.47" y="172.38" font-size="16.62" fill="#6e6e6e">潜水孔</text>
<text x="474.76" y="172.11" font-size="17.33" fill="#5c5c5c">50</text>
<text x="218.98" y="307.23" font-size="16.60" fill="#5c5c5c" transform="rotate(-90 218.98 307.23)">4000</text>
<text x="306.84" y="314.23" font-size="18.51" fill="#5c5c5c">C</text>
<text x="317.84" y="315.74" font-size="7.36" fill="#999">15</text>
<text x="326.70" y="313.52" font-size="16.67" fill="#6e6e6e">块石混凝土</text>
<text x="630.91" y="191.57" font-size="19.34" fill="#6e6e6e">本桩竹篱土围堰</text>
<text x="573.37" y="227.81" font-size="19.25" fill="#5c5c5c">1500</text>
<text x="701.16" y="263.03" font-size="18.52" fill="#5c5c5c">200</text>
<text x="750.30" y="263.52" font-size="20.05" fill="#5c5c5c">4000</text>
<text x="709.45" y="296.48" font-size="18.97" fill="#6e6e6e">高水位</text>
<text x="707.83" y="356.68" font-size="19.06" fill="#6e6e6e">原河岸线</text>
<text x="253.88" y="430.13" font-size="16.86" fill="#5c5c5c">125</text>
<text x="345.23" y="420.80" font-size="16.86" fill="#6e6e6e">预留石榫</text>
<text x="473.47" y="430.18" font-size="17.01" fill="#5c5c5c">125</text>
<text x="515.74" y="499.84" font-size="16.81" fill="#5c5c5c" transform="rotate(-90 515.74 499.84)">300</text>
<text x="533.38" y="481.47" font-size="16.76" fill="#5c5c5c" transform="rotate(-90 533.38 481.47)">200</text>
<text x="533.99" y="514.06" font-size="18.39" fill="#5c5c5c" transform="rotate(-90 533.99 514.06)">100</text>
<text x="82.93" y="512.40" font-size="17.35" fill="#5c5c5c">300x300x10000</text>
<text x="20.00" y="533.20" font-size="17.34" fill="#6e6e6e">钢筋混凝土方桩（梅花型布置）</text>
<text x="494.36" y="547.18" font-size="15.97" fill="#5c5c5c">C</text>
<text x="503.65" y="548.47" font-size="9.43" fill="#999">10</text>
<text x="514.70" y="546.97" font-size="16.83" fill="#6e6e6e">钢筋混凝土</text>
<text x="497.90" y="580.95" font-size="16.67" fill="#6e6e6e">碎石垫层</text>
<text x="236.82" y="601.97" font-size="16.90" fill="#5c5c5c">200</text>
<text x="271.75" y="611.66" font-size="17.02" fill="#5c5c5c">350</text>
<text x="325.41" y="621.65" font-size="15.21" fill="#5c5c5c" textLength="6.60" lengthAdjust="spacingAndGlyphs">a</text>
<text x="415.65" y="621.65" font-size="15.21" fill="#5c5c5c" textLength="7.17" lengthAdjust="spacingAndGlyphs">a</text>
<text x="467.65" y="611.68" font-size="17.09" fill="#5c5c5c">350</text>
<text x="497.42" y="602.00" font-size="16.97" fill="#5c5c5c">200</text>
<text x="369.65" y="696.65" font-size="19.39" fill="#5a5a5a">图</text>
<text x="388.21" y="697.67" font-size="23.48" fill="#5a5a5a">3</text>
<text x="421.90" y="696.89" font-size="20.13" fill="#5a5a5a">挡土墙断面示意图（单位：</text>
<text x="670.95" y="697.10" font-size="21.28" fill="#5a5a5a" textLength="19.65" lengthAdjust="spacingAndGlyphs">mm</text>
<text x="692.59" y="695.72" font-size="21.06" fill="#5a5a5a">）</text>
<text x="883.82" y="273.59" font-size="19.50" fill="#5c5c5c">350</text>
<text x="923.22" y="273.53" font-size="17.29" fill="#5c5c5c" textLength="8.65" lengthAdjust="spacingAndGlyphs">a</text>
<text x="962.32" y="273.53" font-size="17.29" fill="#5c5c5c" textLength="8.65" lengthAdjust="spacingAndGlyphs">a</text>
<text x="845.39" y="333.18" font-size="19.65" fill="#5c5c5c" transform="rotate(-90 845.39 333.18)">350</text>
<text x="844.73" y="353.57" font-size="17.29" fill="#5c5c5c" textLength="11.84" lengthAdjust="spacingAndGlyphs" transform="rotate(-90 844.73 353.57)">a</text>
<text x="844.73" y="392.16" font-size="17.29" fill="#5c5c5c" textLength="11.72" lengthAdjust="spacingAndGlyphs" transform="rotate(-90 844.73 392.16)">a</text>
<text x="845.61" y="430.82" font-size="20.35" fill="#5c5c5c" transform="rotate(-90 845.61 430.82)">350</text>
<text x="901.11" y="453.12" font-size="18.91" fill="#6e6e6e">端缝</text>
<text x="939.62" y="453.23" font-size="19.46" fill="#5c5c5c">20</text>
<text x="959.16" y="452.70" font-size="17.45" fill="#5c5c5c" textLength="18.94" lengthAdjust="spacingAndGlyphs">mm</text>
<text x="832.40" y="505.24" font-size="19.55" fill="#6e6e6e">梅花型方桩平面布置示意图</text>
<text x="732.02" y="267.63" font-size="31.00" fill="#5c5c5c">×</text>
<path d="M467.5,156.3 V172.8" stroke="#1e1e1e" stroke-width="2.1" fill="none"/>
<ellipse cx="467.5" cy="164.5" rx="4.8" ry="4.4" fill="none" stroke="#1e1e1e" stroke-width="2"/>
<circle cx="692.6" cy="258.2" r="4.6" fill="none" stroke="#777" stroke-width="1.0"/>
<line x1="687.3" y1="264.4" x2="698" y2="252" stroke="#777" stroke-width="1.0"/>
<line x1="734.6" y1="252.6" x2="746.8" y2="262.2" stroke="#777" stroke-width="0.9"/>
<line x1="734.6" y1="262.2" x2="746.8" y2="252.6" stroke="#777" stroke-width="0.9"/>
<defs><filter id="sh" x="-20%" y="-40%" width="140%" height="180%"><feDropShadow dx="0.6" dy="0.8" stdDeviation="1.1" flood-color="#555" flood-opacity="0.95"/></filter><filter id="sh2" x="-20%" y="-40%" width="140%" height="180%"><feDropShadow dx="0.6" dy="0.8" stdDeviation="0.6" flood-color="#666" flood-opacity="0.8"/></filter></defs>
<g filter="url(#sh2)">
<text x="833" y="674.5" font-size="26.3" font-family="Liberation Sans" fill="#fff">土木工程资源共享</text>
<path d="M797.9,645.7 C789,645.7 783.3,651.4 783.3,657.9 C783.3,661.6 785.3,664.6 788.2,666.6 L787.3,670.5 L791.6,668.2 C793.6,669.1 795.7,670 797.9,670 C798.3,670 798.7,670 799.2,669.9 C799,669.3 799,668.8 799,668.3 C799,661.8 805,657 812.4,657 C812.6,657 812.8,657 813,657 C811.6,650.6 805.4,645.7 797.9,645.7 Z" fill="#fff" stroke="#aaa" stroke-width="0.7"/>
<path d="M812.5,656.8 C805,656.8 799.3,661.9 799.3,668.3 C799.3,674.6 805,679.8 812.5,679.8 C814.2,679.8 815.8,679.5 817.3,679 L821.4,681 L820.6,677.3 C823.7,675.2 825.7,672 825.7,668.3 C825.7,661.9 820,656.8 812.5,656.8 Z" fill="#fff" stroke="#aaa" stroke-width="0.7"/>
<circle cx="792.4" cy="652.4" r="1.3" fill="#fff" stroke="#aaa" stroke-width="0.6"/>
<circle cx="804.2" cy="652.4" r="1.3" fill="#fff" stroke="#aaa" stroke-width="0.6"/>
<circle cx="807.6" cy="662.1" r="1.3" fill="#fff" stroke="#aaa" stroke-width="0.6"/>
<circle cx="816.7" cy="662.1" r="1.3" fill="#fff" stroke="#aaa" stroke-width="0.6"/>
</g>
<g filter="url(#sh)">
<text x="52.5" y="700.5" font-size="21.6" font-family="Liberation Sans" font-weight="bold" fill="#fff">大数跨境</text>
<path d="M11,683 L15,680 L15,702" fill="none" stroke="#fff" stroke-width="3"/>
<path d="M22,688 A8,8 0 1 0 36,694" fill="none" stroke="#fff" stroke-width="3"/>
<circle cx="31.5" cy="685" r="3.8" fill="none" stroke="#fff" stroke-width="1.8"/>
<circle cx="41" cy="685" r="3.8" fill="none" stroke="#fff" stroke-width="1.8"/>
</g>
</svg></body></html>
